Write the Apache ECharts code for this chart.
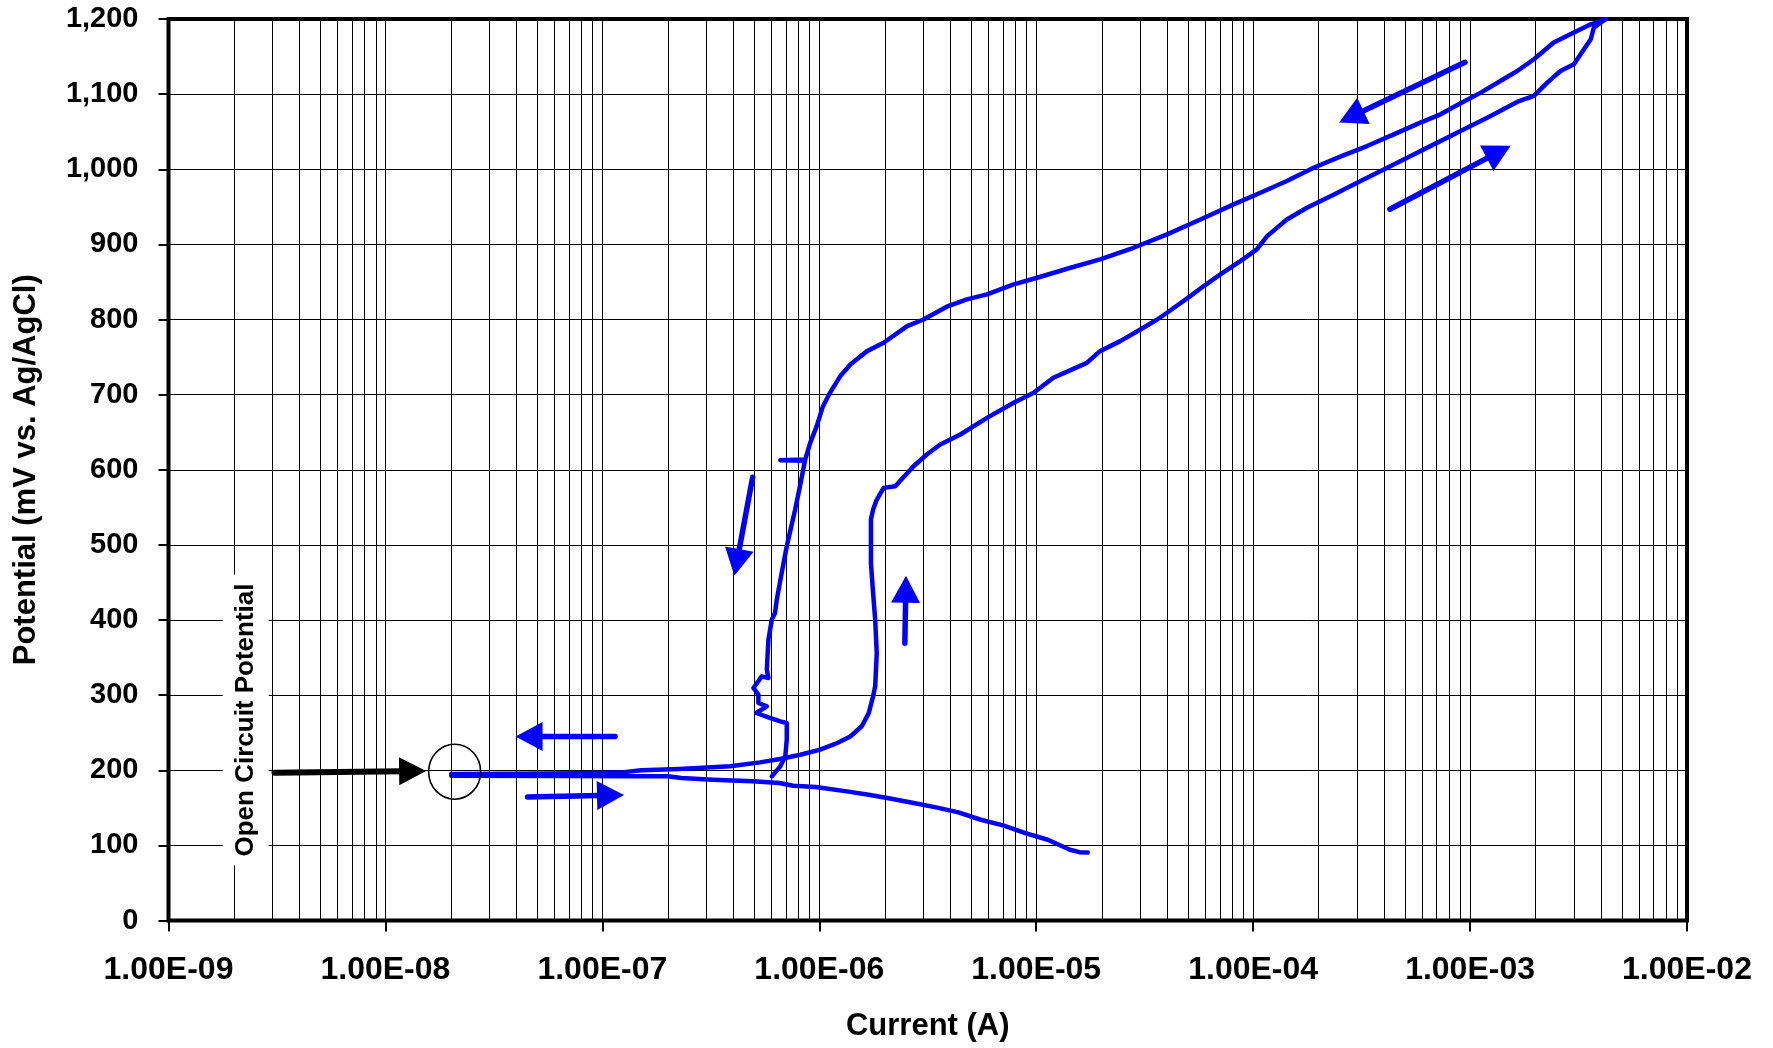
<!DOCTYPE html>
<html><head><meta charset="utf-8">
<script src="https://cdn.jsdelivr.net/npm/echarts@6/dist/echarts.min.js"></script>
<style>html,body{margin:0;padding:0;background:#fff}#c{width:1773px;height:1048px}</style>
</head><body><div id="c"></div>
<script>
// ---------- tick labels ----------
const xTickLabels = ['1.00E-09','1.00E-08','1.00E-07','1.00E-06','1.00E-05','1.00E-04','1.00E-03','1.00E-02'];
const yTickLabels = ['0','100','200','300','400','500','600','700','800','900','1,000','1,100','1,200'];

// ---------- forward (anodic) scan: current (A), potential (mV) ----------
const forwardCurrent = [2.01e-8,3.98e-8,7.76e-8,1.26e-7,1.51e-7,2.26e-7,3.88e-7,5.33e-7,6.59e-7,8.17e-7,1.01e-6,1.21e-6,1.39e-6,1.57e-6,1.69e-6,1.77e-6,1.81e-6,1.84e-6,1.81e-6,1.77e-6,1.73e-6,1.73e-6,1.77e-6,1.84e-6,1.98e-6,2.24e-6,2.72e-6,3.13e-6,3.61e-6,4.47e-6,5.93e-6,7.87e-6,9.73e-6,1.20e-5,1.44e-5,1.71e-5,1.97e-5,2.44e-5,3.02e-5,3.61e-5,4.01e-5,5.13e-5,5.92e-5,7.06e-5,8.73e-5,1.04e-4,1.16e-4,1.43e-4,1.77e-4,2.36e-4,3.13e-4,4.00e-4,5.13e-4,6.81e-4,9.04e-4,1.20e-3,1.68e-3,1.97e-3,2.27e-3,2.61e-3,3.01e-3,3.35e-3,3.60e-3,3.72e-3,4.00e-3,4.22e-3];
const forwardPotential = [195,195.5,196,197.5,200,201.6,205.2,210.5,215,220.7,227.4,236.3,245,258.5,276,298.4,311.7,356,400.5,436,476,533.7,547,560,575.9,578,604.7,620.3,633.6,646.9,669.1,689.1,702.4,722.4,732.6,742.3,757.9,771.2,786.7,800,809,831.1,844.5,860,877.8,893.3,911,933.2,948.8,966.5,984.3,999.8,1015.4,1033.1,1050.9,1068.6,1090.8,1097.6,1115.3,1130.8,1139.7,1159.7,1173,1188.6,1195.2,1199.7];

// ---------- reverse scan ----------
const reverseCurrent = [4.22e-3,4.14e-3,3.60e-3,3.01e-3,2.43e-3,1.97e-3,1.65e-3,1.38e-3,1.12e-3,9.04e-4,7.31e-4,5.90e-4,4.45e-4,3.35e-4,2.52e-4,1.90e-4,1.43e-4,1.08e-4,8.13e-5,5.71e-5,4.01e-5,2.81e-5,1.97e-5,1.44e-5,1.01e-5,7.87e-6,5.93e-6,4.79e-6,3.87e-6,3.02e-6,2.54e-6,1.98e-6,1.66e-6,1.39e-6,1.25e-6,1.12e-6,1.04e-6,9.73e-7,9.08e-7,8.61e-7,6.61e-7,8.59e-7,8.17e-7,7.74e-7,7.08e-7,6.71e-7,6.37e-7,6.25e-7,6.04e-7,5.83e-7,5.77e-7,5.73e-7,5.83e-7,5.43e-7,4.97e-7,5.24e-7,5.24e-7,5.73e-7,5.12e-7,5.83e-7,6.61e-7,7.08e-7,7.08e-7,6.97e-7,6.61e-7,6.04e-7];
const reversePotential = [1199.7,1199,1193,1181.9,1168.6,1146.4,1130.8,1117.5,1102,1087.8,1073.1,1062,1046.4,1030.9,1016.7,1002,984.3,968.7,953.2,933.2,913.3,895.5,880,868.9,855.6,846.7,833.4,826.7,817,800,791.2,769,757.9,740.1,724.6,702.4,684.6,658,635.8,613.6,612.7,612,580,547,498.2,462.7,427.2,409.4,400.5,373.9,351.7,334,322.8,325,309.5,300.6,289.5,285.1,276.2,270.4,265.1,262.9,240.7,218.5,205.2,191.9];

// ---------- cathodic branch ----------
const cathodicCurrent = [2.01e-8,6.31e-8,1.37e-7,2.00e-7,2.31e-7,3.22e-7,4.93e-7,6.56e-7,7.57e-7,9.59e-7,1.34e-6,1.69e-6,2.15e-6,2.72e-6,3.45e-6,4.38e-6,5.55e-6,7.03e-6,8.91e-6,1.13e-5,1.43e-5,1.58e-5,1.73e-5];
const cathodicPotential = [192.7,192.3,191.9,191.9,189.6,187.4,185.2,183,179.4,177.6,171.9,167.4,162.1,156.3,150.6,143.9,134.1,126.6,116.4,107.5,94.2,91,90.6];

// ---------- annotations (data coordinates) ----------
const blueArrowTail = [[1.144e-7,244.9],[4.52e-8,164.4],[4.93e-7,590],[2.48e-6,369],[9.47e-4,1142.4],[4.27e-4,946.7]];
const blueArrowTip  = [[3.98e-8,244.9],[1.258e-7,167.1],[4.06e-7,459],[2.51e-6,459],[2.49e-4,1062.2],[1.539e-3,1031.4]];
const ocpArrowTail = [3.08e-9,196.7];
const ocpArrowTip = [1.54e-8,199];
const ocpCircleCenter = [2.085e-8,198.1];
const ocpLabelAnchor = [2.27e-9,266.9];
const ocpLabel = 'Open Circuit Potential';

// minor log grid lines 2..9 x 10^n
const minorDecades = [-9,-8,-7,-6,-5,-4,-3];
const minorMultipliers = [2,3,4,5,6,7,8,9];
const minorLines = [];
minorDecades.forEach(d => minorMultipliers.forEach(m => minorLines.push([Number((m*Math.pow(10,d)).toPrecision(3)), 0])));

const zip = (a,b) => a.map((v,i)=>[v,b[i]]);
const FONT = '"Liberation Sans", Arial, sans-serif';
const BLUE = '#0000FF';

const chart = echarts.init(document.getElementById('c'));
const lineSeries = (name, data) => ({
  name, type:'line', data, showSymbol:false, symbol:'none', smooth:false, z:3,
  lineStyle:{color:BLUE, width:4.5, cap:'round', join:'round'}, silent:true, animation:false
});
chart.setOption({
  animation:false,
  backgroundColor:'#fff',
  grid:{left:168.5, right:86, top:19, bottom:127.5, containLabel:false, outerBoundsMode:'none',
        show:true, borderColor:'#000', borderWidth:4, backgroundColor:'transparent'},
  xAxis:{
    type:'log', logBase:10, min:1e-9, max:1e-2,
    name:'Current (A)', nameLocation:'middle', nameGap:90,
    nameTextStyle:{fontFamily:FONT, fontWeight:'bold', fontSize:31, color:'#000'},
    axisLine:{show:false},
    axisTick:{show:true, length:11, lineStyle:{color:'#000', width:2}},
    axisLabel:{fontFamily:FONT, fontWeight:'bold', fontSize:32, color:'#000', margin:34,
      showMinLabel:true, showMaxLabel:true, interval:0,
      formatter:v => xTickLabels[Math.round(Math.log10(v)) + 9]},
    splitLine:{show:true, lineStyle:{color:'#000', width:1}},
    minorTick:{show:false}, minorSplitLine:{show:false}
  },
  yAxis:{
    type:'value', min:0, max:1200, interval:100,
    name:'Potential (mV vs. Ag/AgCl)', nameLocation:'middle', nameGap:127,
    nameTextStyle:{fontFamily:FONT, fontWeight:'bold', fontSize:31, color:'#000'},
    axisLine:{show:false},
    axisTick:{show:true, length:10, lineStyle:{color:'#000', width:2}},
    axisLabel:{fontFamily:FONT, fontWeight:'bold', fontSize:29, color:'#000', margin:30,
      formatter:v => yTickLabels[Math.round(v/100)]},
    splitLine:{show:true, lineStyle:{color:'#000', width:1}}
  },
  series:[
    {type:'custom', data:minorLines, z:1, silent:true, animation:false,
     encode:{x:0, y:1},
     renderItem:(params, api) => {
       const v = api.value(0);
       const a = api.coord([v, 0]), b = api.coord([v, 1200]);
       const x = Math.round(a[0]) + 0.5;
       return {type:'line', shape:{x1:x, y1:a[1], x2:x, y2:b[1]}, style:{stroke:'#000', lineWidth:1}};
     }},
    lineSeries('Cathodic', zip(cathodicCurrent, cathodicPotential)),
    lineSeries('Forward', zip(forwardCurrent, forwardPotential)),
    lineSeries('Reverse', zip(reverseCurrent, reversePotential))
  ]
});

function px(p){ return chart.convertToPixel({gridIndex:0}, p); }
function arrow(tailD, tipD, color, shaftW, headL, headW){
  const s = px(tailD), t = px(tipD);
  const dx = t[0]-s[0], dy = t[1]-s[1], len = Math.hypot(dx,dy);
  const ux = dx/len, uy = dy/len, nx = -uy, ny = ux;
  const b = [t[0]-ux*headL, t[1]-uy*headL];
  return [
    {type:'line', z:100, silent:true, shape:{x1:s[0], y1:s[1], x2:b[0]+ux*2, y2:b[1]+uy*2},
     style:{stroke:color, lineWidth:shaftW, lineCap:'round'}},
    {type:'polygon', z:101, silent:true, shape:{points:[t, [b[0]+nx*headW, b[1]+ny*headW], [b[0]-nx*headW, b[1]-ny*headW]]},
     style:{fill:color}}
  ];
}
const g = [];
blueArrowTail.forEach((tl,i) => g.push(...arrow(tl, blueArrowTip[i], BLUE, 5.5, 27, 14.5)));
g.push(...arrow(ocpArrowTail, ocpArrowTip, '#000', 6, 27, 14));
const cc = px(ocpCircleCenter);
g.push({type:'ellipse', z:100, silent:true, shape:{cx:cc[0], cy:cc[1], rx:26, ry:27.5}, style:{fill:null, stroke:'#000', lineWidth:1.6}});
const la = px(ocpLabelAnchor);
g.push({type:'text', z:100, silent:true, x:la[0], y:la[1], rotation:Math.PI/2,
  style:{text:ocpLabel, font:'bold 26px ' + FONT, fill:'#000', align:'center', verticalAlign:'middle',
    backgroundColor:'#fff', padding:[10,9]}});
chart.setOption({graphic:g});
</script></body></html>
